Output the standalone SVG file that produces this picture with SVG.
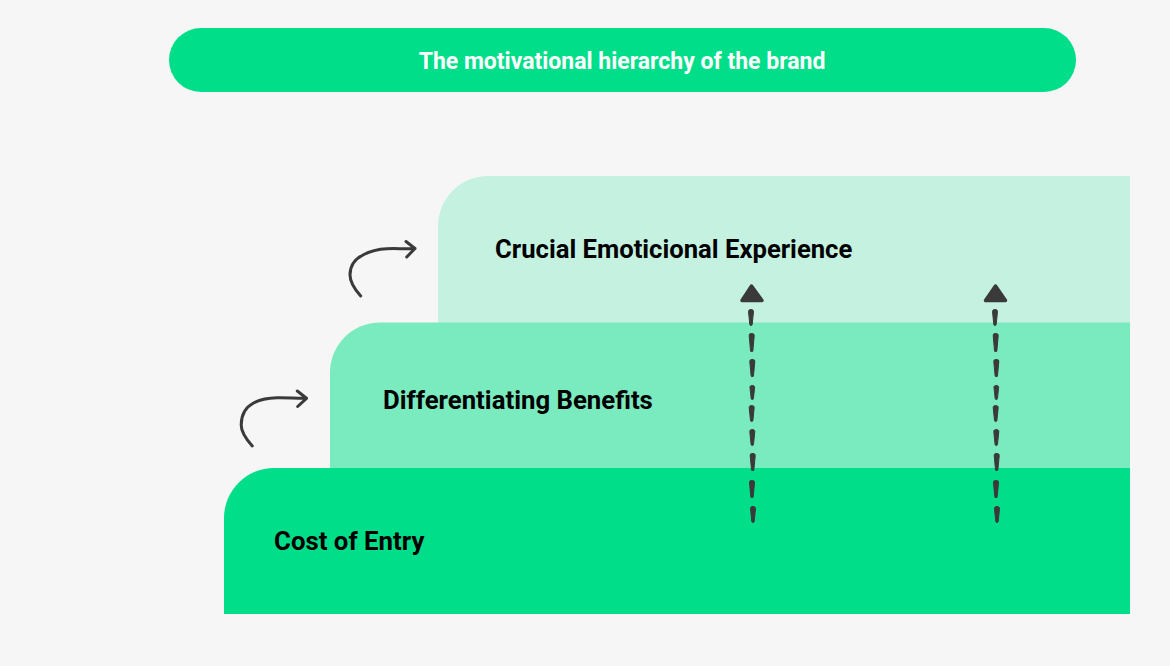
<svg xmlns="http://www.w3.org/2000/svg" width="1170" height="666" viewBox="0 0 1170 666">
<style>
text{font-family:Roboto,"Liberation Sans",sans-serif;font-weight:700;fill:#000}
.c{fill:none;stroke:#3a3a3a;stroke-width:3;stroke-linecap:round;stroke-linejoin:round}
.h{fill:#3a3a3a;stroke:#3a3a3a;stroke-width:3.5;stroke-linejoin:round}
.t{fill:#3a3a3a;stroke:#3a3a3a;stroke-width:1;stroke-linejoin:round}
</style>
<defs>
<path id="dash" d="M-2.500 2.500C-2.500 1-1.400 .5-.1 .5C1.300 .5 2.500 1 2.500 2.500L1.200 15.500C1.100 16.800-1.100 16.800-1.200 15.500Z"/>
<g id="dashes">
<use href="#dash" class="t" transform="translate(751 309)"/>
<use href="#dash" class="t" transform="translate(751.7 333) scale(1 1.12)"/>
<use href="#dash" class="t" transform="translate(752.300 359) scale(1 1.06)"/>
<use href="#dash" class="t" transform="translate(752.300 385) scale(.95 .88)"/>
<use href="#dash" class="t" transform="translate(751.700 405)"/>
<use href="#dash" class="t" transform="translate(752.300 429)"/>
<use href="#dash" class="t" transform="translate(752.700 453) scale(1 1.06)"/>
<use href="#dash" class="t" transform="translate(752 480) scale(1 1.06)"/>
<use href="#dash" class="t" transform="translate(753 506)"/>
</g>
</defs>
<rect width="1170" height="666" fill="#f6f6f6"/>
<g id="title"><rect x="169" y="28" width="907" height="64" rx="32" fill="#00de8a"/><text x="622" y="69" font-size="23" text-anchor="middle" style="fill:#fff">The motivational hierarchy of the brand</text></g>
<g id="level3"><path d="M1130 176H488a50 50 0 0 0-50 50V330H1130Z" fill="#c5f2e0"/><text x="495" y="258" font-size="25.650">Crucial Emoticional Experience</text></g>
<g id="level2"><path d="M1130 322.500H380a50 50 0 0 0-50 50V476H1130Z" fill="#7aeabf"/><text x="383" y="409" font-size="25.750">Differentiating Benefits</text></g>
<g id="level1"><path d="M1130 468H274a50 50 0 0 0-50 50V614H1130Z" fill="#00de8a"/><text x="274" y="550" font-size="25.800">Cost of Entry</text></g>
<g id="connectors">
<path class="c" d="M360.700 296C353.500 288 350 282 350 275C350 266 355 259 363 255C371 250.500 379 249 387 248.700C397 248.400 406 249 415 248.500M406 241.500L415 248.500L406.700 257"/>
<path class="c" d="M252.300 446C245 438 241.200 432 241.200 425C241.200 415 246 407 253.500 403C261 399 269 398 277 397.800C287 397.600 297 398.500 306.500 398.300M297.300 391L306.500 398.300L297.700 406.500"/>
<use href="#dashes"/><path class="h" d="M751.500 286L742 300.500H762Z"/>
<use href="#dashes" x="244"/><path class="h" d="M995.500 286L985.500 300.500H1005.500Z"/>
</g>
</svg>
